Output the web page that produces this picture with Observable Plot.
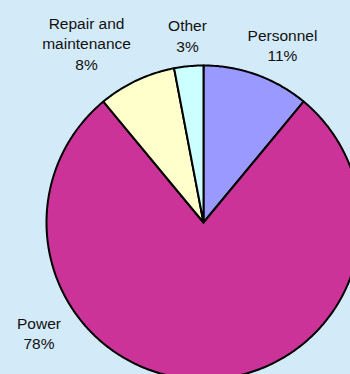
<!DOCTYPE html>
<html><head><meta charset="utf-8">
<script src="https://cdn.jsdelivr.net/npm/d3@7"></script>
<script src="https://cdn.jsdelivr.net/npm/@observablehq/plot@0.6"></script>
<style>
html,body{margin:0;padding:0;background:#D3EAF9;}
#chart svg{display:block;}
</style>
</head><body><div id="chart"></div>
<script>
const categories = ["Personnel", "Power", "Repair and\nmaintenance", "Other"];
const shares = [11, 78, 8, 3];
const colors = ["#9999FF", "#CC3399", "#FFFFCC", "#CCFFFF"];
// label anchor positions in pie-radius units (layout, not data)
const labelX = [0.503, -1.048, -0.745, -0.102];
const labelY = [1.134, -0.701, 1.146, 1.194];

const total = d3.sum(shares);
const slices = [];
let acc = 0;
categories.forEach((c, i) => {
  const a0 = acc / total * 2 * Math.PI;
  acc += shares[i];
  const a1 = acc / total * 2 * Math.PI;
  slices.push({cat: c, x: 0, y: 0});
  const n = Math.max(4, Math.ceil((a1 - a0) / 0.01));
  for (let k = 0; k <= n; k++) {
    const a = a0 + (a1 - a0) * k / n;
    slices.push({cat: c, x: Math.sin(a), y: Math.cos(a)});
  }
});
const labels = categories.map((c, i) => ({
  text: c + "\n" + shares[i] + "%", x: labelX[i], y: labelY[i]
}));

const chart = Plot.plot({
  width: 350, height: 374, margin: 0,
  style: {background: "#D3EAF9", fontFamily: "'Liberation Sans', Arial, sans-serif"},
  x: {domain: [-203/157, 147/157], axis: null},
  y: {domain: [-152/157, 222/157], axis: null},
  color: {domain: categories, range: colors},
  marks: [
    Plot.line(slices, {x: "x", y: "y", z: "cat", fill: "cat", stroke: "black", strokeWidth: 2, curve: "linear-closed", strokeLinejoin: "round"}),
    Plot.text(labels, {x: "x", y: "y", text: "text", fontSize: 15.5, lineHeight: 1.32, lineAnchor: "middle", textAnchor: "middle", fill: "#111"})
  ]
});
document.getElementById("chart").appendChild(chart);
</script>
</body></html>
